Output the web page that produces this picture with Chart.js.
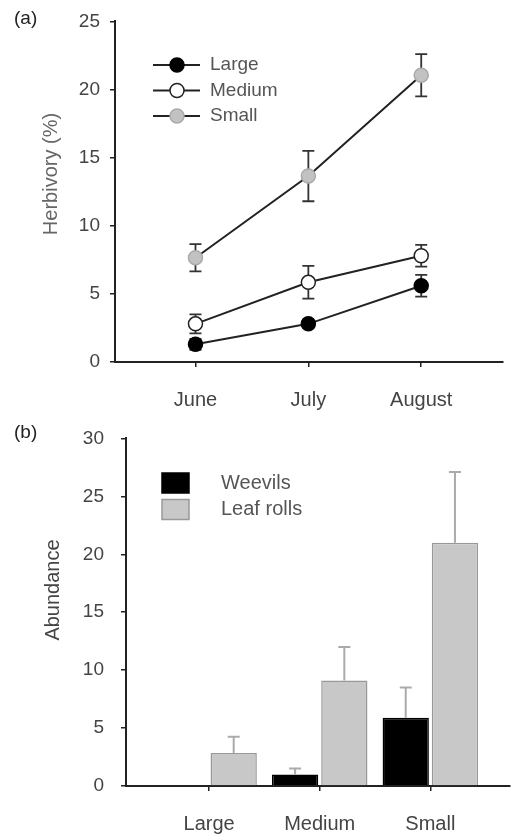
<!DOCTYPE html>
<html>
<head>
<meta charset="utf-8">
<script src="https://cdn.jsdelivr.net/npm/chart.js@4.4.0/dist/chart.umd.min.js"></script>
<style>
  body { margin: 0; background: #fff; width: 511px; height: 834px; overflow: hidden; font-family: "Liberation Sans", Arial, sans-serif; }
  .wrap { position: absolute; left: 0; width: 511px; }
  #topWrap { top: 0; height: 410px; }
  #botWrap { top: 410px; height: 424px; }
  .panel { position: absolute; left: 14px; font-size: 19px; line-height: 23px; color: #222; }
  .ytitle { position: absolute; font-size: 20px; white-space: nowrap; transform: translate(-50%, -50%) rotate(-90deg); }
</style>
</head>
<body>
<div class="wrap" id="topWrap"><canvas id="herbChart" width="511" height="410"></canvas></div>
<div class="wrap" id="botWrap"><canvas id="abundChart" width="511" height="424"></canvas></div>
<div class="panel" style="top:6px">(a)</div>
<div class="panel" style="top:420px">(b)</div>
<div class="ytitle" style="left:50px; top:174px; color:#666">Herbivory (%)</div>
<div class="ytitle" style="left:52px; top:590px; color:#444">Abundance</div>
<script>
// Panel (a): herbivory by month
const months = ['June', 'July', 'August'];
const monthPos = [1, 2, 3];
const largeHerb = [1.3, 2.8, 5.6];
const largeErr = [0.4, 0.3, 0.8];
const mediumHerb = [2.8, 5.85, 7.8];
const mediumErr = [0.7, 1.2, 0.8];
const smallHerb = [7.65, 13.65, 21.05];
const smallErr = [1.0, 1.85, 1.55];
const herbTicks = [0, 5, 10, 15, 20, 25];

// Panel (b): abundance by leaf size
const sizes = ['Large', 'Medium', 'Small'];
const sizePos = [1, 2, 3];
const weevils = [0, 1.0, 5.9];
const weevilErr = [0, 0.5, 2.6];
const leafRolls = [2.85, 9.1, 21.0];
const leafErr = [1.4, 2.9, 6.1];
const abundTicks = [0, 5, 10, 15, 20, 25, 30];

const FONT = '"Liberation Sans", Arial, sans-serif';
const AXIS = '#222';

function points(xs, ys) {
    return xs.map((x, i) => ({ x: x, y: ys[i] }));
}

function axisStyle(tickPadding) {
    return {
        grid: { drawOnChartArea: false, drawTicks: true, tickLength: 5, color: AXIS, lineWidth: 1.5, offset: false },
        border: { display: true, color: AXIS, width: 2 },
        ticks: { color: '#444', font: { family: FONT, size: 19 }, padding: tickPadding },
    };
}

// error bars drawn from the data through the chart's scales
const errorBars = {
    id: 'errorBars',
    beforeDatasetsDraw(chart, args, opts) {
        if (opts.layer === 'before') drawErrors(chart, opts);
    },
    afterDatasetsDraw(chart, args, opts) {
        if (opts.layer === 'after') drawErrors(chart, opts);
    },
};

function drawErrors(chart, opts) {
    const ctx = chart.ctx;
    const yScale = chart.scales.y;
    ctx.save();
    ctx.strokeStyle = opts.color;
    ctx.lineWidth = opts.width;
    chart.data.datasets.forEach((ds, di) => {
        const meta = chart.getDatasetMeta(di);
        (ds.errors || []).forEach((err, j) => {
            if (!err) return;
            const v = ds.data[j].y;
            const x = meta.data[j].x;
            const yTop = yScale.getPixelForValue(v + err);
            const yBot = yScale.getPixelForValue(opts.oneSided ? v : v - err);
            ctx.beginPath();
            ctx.moveTo(x, yBot);
            ctx.lineTo(x, yTop);
            ctx.moveTo(x - opts.cap, yTop);
            ctx.lineTo(x + opts.cap, yTop);
            if (!opts.oneSided) {
                ctx.moveTo(x - opts.cap, yBot);
                ctx.lineTo(x + opts.cap, yBot);
            }
            ctx.stroke();
        });
    });
    ctx.restore();
}

// legend drawn inside the plot area
const innerLegend = {
    id: 'innerLegend',
    afterDraw(chart, args, opts) {
        const ctx = chart.ctx;
        ctx.save();
        ctx.font = opts.size + 'px ' + FONT;
        ctx.textBaseline = 'middle';
        chart.data.datasets.forEach((ds, i) => {
            const y = opts.y + i * opts.rowGap;
            if (opts.kind === 'line') {
                ctx.strokeStyle = ds.borderColor;
                ctx.lineWidth = 2;
                ctx.beginPath();
                ctx.moveTo(opts.x, y);
                ctx.lineTo(opts.x + 47, y);
                ctx.stroke();
                ctx.beginPath();
                ctx.arc(opts.x + 24, y, 7, 0, Math.PI * 2);
                ctx.fillStyle = ds.pointBackgroundColor;
                ctx.fill();
                ctx.lineWidth = 1.5;
                ctx.strokeStyle = ds.pointBorderColor;
                ctx.stroke();
            } else {
                ctx.fillStyle = ds.backgroundColor;
                ctx.fillRect(opts.x, y - 10, 27, 20);
                ctx.strokeStyle = ds.borderColor;
                ctx.lineWidth = 1.5;
                ctx.strokeRect(opts.x, y - 10, 27, 20);
            }
            ctx.fillStyle = '#555';
            ctx.fillText(ds.label, opts.textX, y);
        });
        ctx.restore();
    },
};

function lineSet(label, data, errs, fill, border) {
    return {
        label: label,
        data: points(monthPos, data),
        errors: errs,
        borderColor: '#222',
        borderWidth: 2,
        pointRadius: 7,
        pointBorderWidth: 1.5,
        pointBackgroundColor: fill,
        pointBorderColor: border,
        tension: 0,
    };
}

const herbX = axisStyle(21);
herbX.type = 'linear';
herbX.min = 0.287;
herbX.max = 3.72;
herbX.afterBuildTicks = s => { s.ticks = monthPos.map(v => ({ value: v })); };
herbX.ticks.callback = v => months[monthPos.indexOf(v)];
herbX.ticks.font = { family: FONT, size: 20 };
herbX.afterFit = s => { s.height = 48; };

const herbY = axisStyle(10);
herbY.min = 0;
herbY.max = 25;
herbY.afterBuildTicks = s => { s.ticks = herbTicks.map(v => ({ value: v })); };
herbY.afterFit = s => { s.width = 115; };

new Chart(document.getElementById('herbChart'), {
    type: 'line',
    data: {
        datasets: [
            lineSet('Large', largeHerb, largeErr, '#000', '#000'),
            lineSet('Medium', mediumHerb, mediumErr, '#fff', '#222'),
            lineSet('Small', smallHerb, smallErr, '#c2c2c2', '#aaa'),
        ],
    },
    options: {
        responsive: false,
        animation: false,
        layout: { padding: { top: 17, left: 0, right: 1, bottom: 0 } },
        scales: { x: herbX, y: herbY },
        plugins: {
            legend: { display: false },
            tooltip: { enabled: false },
            errorBars: { layer: 'before', color: '#333', width: 1.8, cap: 6, oneSided: false },
            innerLegend: { kind: 'line', x: 153, y: 65, rowGap: 25.5, textX: 210, size: 19 },
        },
    },
    plugins: [errorBars, innerLegend],
});

const abX = axisStyle(21);
abX.type = 'linear';
abX.offset = false;
abX.min = 0.249;
abX.max = 3.72;
abX.afterBuildTicks = s => { s.ticks = sizePos.map(v => ({ value: v })); };
abX.ticks.callback = v => sizes[sizePos.indexOf(v)];
abX.ticks.font = { family: FONT, size: 20 };
abX.afterFit = s => { s.height = 48; };

const abY = axisStyle(17);
abY.min = 0;
abY.max = 30;
abY.afterBuildTicks = s => { s.ticks = abundTicks.map(v => ({ value: v })); };
abY.afterFit = s => { s.width = 126; };

new Chart(document.getElementById('abundChart'), {
    type: 'bar',
    data: {
        datasets: [
            {
                label: 'Weevils',
                data: points(sizePos, weevils),
                errors: weevilErr,
                backgroundColor: '#000',
                borderColor: '#000',
                borderWidth: 1.5,
            },
            {
                label: 'Leaf rolls',
                data: points(sizePos, leafRolls),
                errors: leafErr,
                backgroundColor: '#c8c8c8',
                borderColor: '#999',
                borderWidth: 1.5,
            },
        ],
    },
    options: {
        responsive: false,
        animation: false,
        barPercentage: 0.94,
        categoryPercentage: 0.89,
        layout: { padding: { top: 23, left: 0, right: 1, bottom: 0 } },
        scales: { x: abX, y: abY },
        plugins: {
            legend: { display: false },
            tooltip: { enabled: false },
            errorBars: { layer: 'after', color: '#aaa', width: 2, cap: 6, oneSided: true },
            innerLegend: { kind: 'bar', x: 162, y: 73, rowGap: 26.5, textX: 221, size: 20 },
        },
    },
    plugins: [errorBars, innerLegend],
});
</script>
</body>
</html>
